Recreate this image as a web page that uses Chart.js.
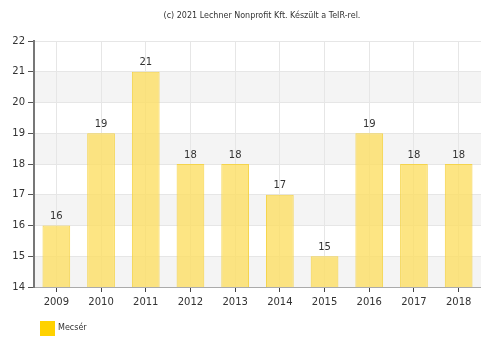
<!DOCTYPE html>
<html><head><meta charset="utf-8">
<script src="https://cdn.jsdelivr.net/npm/chart.js@4/dist/chart.umd.min.js"></script>
<style>html,body{margin:0;padding:0;background:#fff}#w{width:481px;height:338px}</style>
</head><body><div id="w"><canvas id="c" width="481" height="338"></canvas></div>
<script>
const categories = ['2009','2010','2011','2012','2013','2014','2015','2016','2017','2018'];
const values = [16,19,21,18,18,17,15,19,18,18];
const seriesName = 'Mecsér';
const titleText = '(c) 2021 Lechner Nonprofit Kft. Készült a TeIR-rel.';
const yMin = 14, yMax = 22;
const bandRanges = [[14,15],[16,17],[18,19],[20,21]];
const FONT = 'DejaVu Sans';

const extras = {
  id: 'extras',
  beforeDraw(chart) {
    const {ctx, chartArea, scales} = chart;
    ctx.save();
    ctx.fillStyle = '#f4f4f4';
    bandRanges.forEach(([a,b]) => {
      const y1 = scales.y.getPixelForValue(b), y2 = scales.y.getPixelForValue(a);
      ctx.fillRect(chartArea.left, y1, chartArea.right - chartArea.left, y2 - y1);
    });
    ctx.restore();
  },
  afterDatasetsDraw(chart) {
    const {ctx} = chart;
    ctx.save();
    ctx.font = '10px ' + FONT;
    ctx.fillStyle = '#333';
    ctx.textAlign = 'center';
    ctx.textBaseline = 'bottom';
    chart.getDatasetMeta(0).data.forEach((bar, i) => {
      ctx.fillText(String(values[i]), bar.x, bar.y - 4);
    });
    // title
    ctx.font = '8px ' + FONT;
    ctx.fillStyle = '#333';
    ctx.textBaseline = 'middle';
    ctx.fillText(titleText, 262, 16);
    // legend
    ctx.fillStyle = '#ffd200';
    ctx.fillRect(40, 321, 15, 15);
    ctx.font = '8px ' + FONT;
    ctx.fillStyle = '#333';
    ctx.textAlign = 'left';
    ctx.fillText(seriesName, 58, 328);
    ctx.restore();
  }
};

new Chart(document.getElementById('c'), {
  type: 'bar',
  data: {
    labels: categories,
    datasets: [{
      label: seriesName,
      data: values,
      backgroundColor: 'rgba(253,222,100,0.8)',
      borderColor: 'rgba(245,210,60,0.9)',
      borderWidth: 1,
      categoryPercentage: 1,
      barPercentage: 0.62
    }]
  },
  options: {
    responsive: false,
    animation: false,
    layout: { padding: { top: 41, right: 0, left: 0, bottom: 27 } },
    plugins: { legend: { display: false }, title: { display: false }, tooltip: { enabled: false } },
    scales: {
      x: {
        offset: true,
        grid: { offset: false, color: '#e6e6e6', tickColor: '#444', tickLength: 5, drawOnChartArea: true },
        border: { display: true, color: '#aaa', width: 1 },
        ticks: { color: '#333', font: { family: FONT, size: 10 }, padding: 4, maxRotation: 0 },
        afterFit(s) { s.height = 24; }
      },
      y: {
        min: yMin, max: yMax,
        grid: { color: '#e6e6e6', tickColor: '#555', tickLength: 6 },
        border: { color: '#777', width: 2 },
        ticks: { stepSize: 1, color: '#333', font: { family: FONT, size: 10 }, padding: 3 },
        afterFit(s) { s.width = 34; }
      }
    }
  },
  plugins: [extras]
});
</script></body></html>
